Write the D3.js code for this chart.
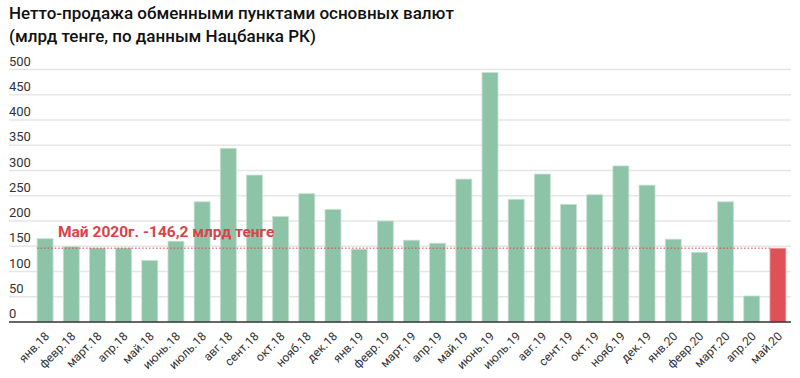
<!DOCTYPE html>
<html lang="ru">
<head>
  <meta charset="UTF-8" />
  <title>Нетто-продажа обменными пунктами</title>
  <script src="https://d3js.org/d3.v7.min.js"></script>
  <style>
    body { margin: 0; background: #fff; font-family: Roboto, "Noto Sans", sans-serif; }
    .axis text { fill: #333; }
  </style>
</head>
<body>
  <svg id="chart" width="800" height="378"></svg>
  <script>
  const months = [
    "янв.18","февр.18","март.18","апр.18","май.18","июнь.18","июль.18","авг.18",
    "сент.18","окт.18","нояб.18","дек.18","янв.19","февр.19","март.19","апр.19",
    "май.19","июнь.19","июль.19","авг.19","сент.19","окт.19","нояб.19","дек.19",
    "янв.20","февр.20","март.20","апр.20","май.20"
  ];
  const values = [
    165, 149, 146.5, 146.5, 122, 160, 238, 344,
    291, 209, 254, 223, 144, 200, 162, 156,
    283, 494, 243, 293, 233, 252, 309, 271,
    164, 138, 238, 51.5, 146.2
  ];
  const yTicks = [0, 50, 100, 150, 200, 250, 300, 350, 400, 450, 500];
  const titleLines = ["Нетто-продажа обменными пунктами основных валют", "(млрд тенге, по данным Нацбанка РК)"];
  const note = "Май 2020г. -146,2 млрд тенге";
  const refValue = 146.2;

  const data = months.map((m, i) => ({ month: m, value: values[i] }));

  const svg = d3.select("#chart");
  const plotLeft = 9, plotRight = 791, plotTop = 69.5, plotBottom = 322;

  const x = d3.scaleBand().domain(months).range([32, 791]).paddingInner(0.39).paddingOuter(0.195);
  const y = d3.scaleLinear().domain([0, 500]).range([plotBottom, plotTop]);

  // title
  svg.append("g").selectAll("text").data(titleLines).join("text")
    .attr("x", 9).attr("y", (d, i) => 19 + i * 23)
    .attr("font-size", 17).attr("font-weight", 500).attr("fill", "#111")
    .text(d => d);

  // grid + y labels
  const grid = svg.append("g").attr("class", "axis");
  grid.selectAll("line").data(yTicks.filter(d => d > 0)).join("line")
    .attr("x1", plotLeft).attr("x2", plotRight)
    .attr("y1", d => y(d)).attr("y2", d => y(d))
    .attr("stroke", "#e6e6e6").attr("stroke-width", 1.5);
  grid.selectAll("text").data(yTicks).join("text")
    .attr("x", plotLeft).attr("y", d => y(d) - 4)
    .attr("font-size", 13).text(d => d);

  // bars
  svg.append("g").selectAll("rect").data(data).join("rect")
    .attr("x", d => x(d.month))
    .attr("width", x.bandwidth())
    .attr("y", d => y(d.value))
    .attr("height", d => y(0) - y(d.value))
    .attr("fill", (d, i) => i === data.length - 1 ? "#dc5257" : "#8dc3a7")
    .attr("stroke", (d, i) => i === data.length - 1 ? "#eea6a8" : "#c6e1d2")
    .attr("stroke-width", 0.8);

  // reference dotted line
  svg.append("line")
    .attr("x1", x(months[0])).attr("x2", x(months[months.length - 1]))
    .attr("y1", y(refValue)).attr("y2", y(refValue))
    .attr("stroke", "#d9434a").attr("stroke-width", 1).attr("stroke-dasharray", "1.5,2");

  svg.append("text")
    .attr("x", 58).attr("y", 237)
    .attr("font-size", 15.5).attr("font-weight", 700).attr("fill", "#d9434a")
    .text(note);

  // x axis baseline
  svg.append("line").attr("x1", plotLeft).attr("x2", plotRight)
    .attr("y1", plotBottom).attr("y2", plotBottom)
    .attr("stroke", "#333").attr("stroke-width", 1.5);

  // rotated month labels
  const xLabels = svg.append("g").attr("class", "axis")
    .selectAll("g").data(months).join("g")
    .attr("transform", d => `translate(${x(d) + x.bandwidth() / 2 + 5},${plotBottom + 15})`);
  xLabels.append("text")
    .attr("transform", "rotate(-45)")
    .attr("text-anchor", "end")
    .attr("font-size", 12)
    .text(d => d);
  </script>
</body>
</html>
